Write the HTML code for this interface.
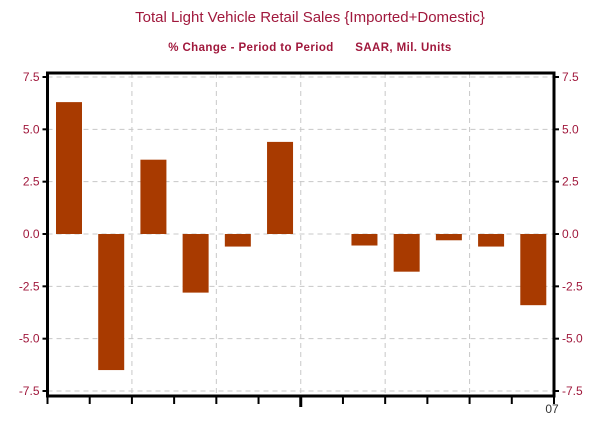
<!DOCTYPE html>
<html><head><meta charset="utf-8"><style>
body{margin:0;background:#fff;}
svg{display:block;font-family:"Liberation Sans",sans-serif;}
</style></head><body>
<svg id="chart" width="606" height="421" viewBox="0 0 606 421">
<text x="310" y="22" text-anchor="middle" font-size="15" fill="#a0183c">Total Light Vehicle Retail Sales {Imported+Domestic}</text>
<text x="310" y="51" text-anchor="middle" font-size="11.5" font-weight="bold" letter-spacing="0.4" fill="#a0183c">% Change - Period to Period &#160;&#160;&#160;&#160;&#160;SAAR, Mil. Units</text>
<g id="grid"></g><g id="bars"></g><g id="axes"></g>
</svg>
<script>
const categories=["1","2","3","4","5","6","7","8","9","10","11","12"];
const values=[6.3,-6.5,3.55,-2.8,-0.6,4.4,0,-0.55,-1.8,-0.3,-0.6,-3.4];
const yTicks=[7.5,5.0,2.5,0.0,-2.5,-5.0,-7.5];
const yTickLabels=["7.5","5.0","2.5","0.0","-2.5","-5.0","-7.5"];
const xLabel="07";
const L=47.5,R=554,T=73,B=396;
const y=v=>234-v*(157/7.5);
const slot=(R-L)/categories.length;
const x=i=>L+i*slot;
const NS="http://www.w3.org/2000/svg";
function mk(t,a,p){const e=document.createElementNS(NS,t);for(const k in a)e.setAttribute(k,a[k]);p.appendChild(e);return e;}
const grid=document.getElementById('grid'),bars=document.getElementById('bars'),axes=document.getElementById('axes');
yTicks.forEach((v,i)=>{
 const g=mk('line',{x1:L,x2:R,y1:y(v),y2:y(v),stroke:'#c8c8c8','stroke-dasharray':'5,4'},grid);
 
 
 const t1=mk('line',{x1:L-5,x2:L,y1:y(v),y2:y(v),stroke:'#000','stroke-width':2},axes);
 
 
 const t2=mk('line',{x1:R,x2:R+5,y1:y(v),y2:y(v),stroke:'#000','stroke-width':2},axes);
 
 
 const a=mk('text',{x:L-8,y:y(v)+4,'text-anchor':'end','font-size':12,fill:'#a0183c'},axes);a.textContent=yTickLabels[i];
 
 
 const b=mk('text',{x:R+8,y:y(v)+4,'font-size':12,fill:'#a0183c'},axes);b.textContent=yTickLabels[i];
 
 
});
for(let i=0;i<=categories.length;i++){
 if(i%2===0&&i>0&&i<categories.length){
  const g=mk('line',{x1:x(i),x2:x(i),y1:T,y2:B,stroke:'#c8c8c8','stroke-dasharray':'5,4'},grid);
  
  
 }
 const tk=mk('line',{x1:x(i),x2:x(i),y1:B,y2:B+(i===6?11:8),stroke:'#000','stroke-width':i===6?3:2},axes);
 
 
}
values.forEach((v,i)=>{
 const r=mk('rect',{x:x(i)+8.5,width:26,y:Math.min(y(v),y(0)),height:Math.abs(y(v)-y(0)),fill:'#a83a00'},bars);
 
 
});
const f=mk('rect',{x:L,y:T,width:R-L,height:B-T,fill:'none',stroke:'#000','stroke-width':3},axes);


const xl=mk('text',{x:R-2,y:413,'text-anchor':'middle','font-size':12,fill:'#333'},axes);xl.textContent=xLabel;


</script>
</body></html>
